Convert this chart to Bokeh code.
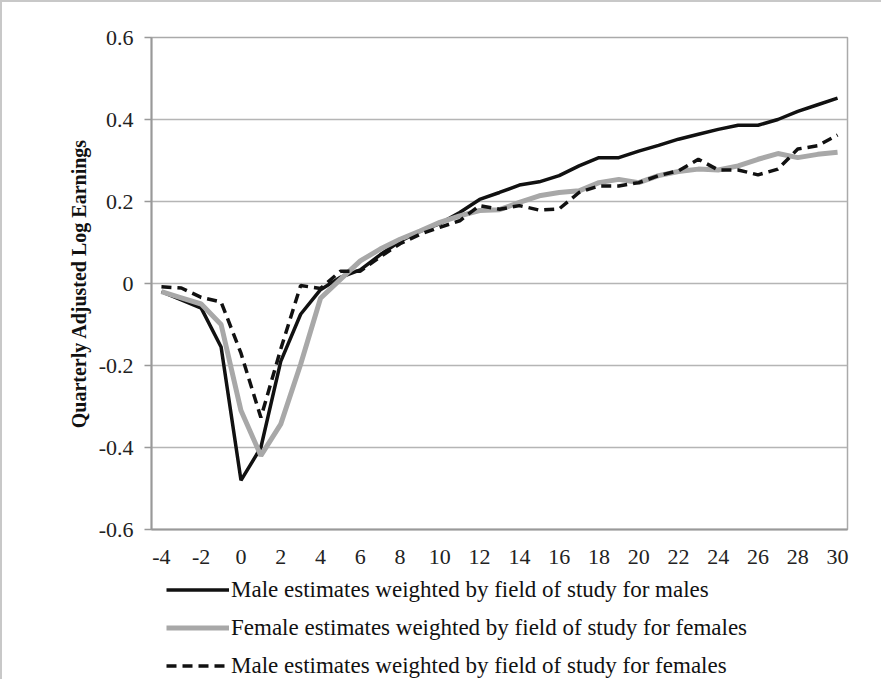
from bokeh.plotting import figure
from bokeh.layouts import column
from bokeh.models import Range1d, FixedTicker, CustomJSTickFormatter, Legend, LegendItem
from bokeh.embed import file_html
from bokeh.resources import INLINE

quarters = list(range(-4, 31))

male_for_males = [-0.02, -0.04, -0.06, -0.155, -0.48, -0.40, -0.19, -0.075, -0.015, 0.015,
                  0.033, 0.07, 0.103, 0.127, 0.146, 0.173, 0.205, 0.222, 0.240, 0.248,
                  0.263, 0.287, 0.307, 0.307, 0.323, 0.337, 0.352, 0.364, 0.376, 0.386,
                  0.386, 0.400, 0.420, 0.436, 0.452]

female_for_females = [-0.02, -0.035, -0.05, -0.10, -0.31, -0.42, -0.343, -0.197, -0.036, 0.01,
                      0.055, 0.084, 0.108, 0.128, 0.149, 0.165, 0.178, 0.180, 0.198, 0.214,
                      0.222, 0.226, 0.246, 0.254, 0.246, 0.263, 0.273, 0.279, 0.277, 0.287,
                      0.303, 0.317, 0.307, 0.315, 0.320]

male_for_females = [-0.008, -0.011, -0.034, -0.045, -0.17, -0.327, -0.16, -0.005, -0.012, 0.03,
                    0.03, 0.065, 0.097, 0.12, 0.137, 0.153, 0.19, 0.181, 0.19, 0.179,
                    0.182, 0.222, 0.238, 0.238, 0.246, 0.263, 0.275, 0.303, 0.277, 0.277,
                    0.265, 0.279, 0.328, 0.336, 0.362]

x_ticks = list(range(-4, 31, 2))
y_ticks = [-0.6, -0.4, -0.2, 0.0, 0.2, 0.4, 0.6]

labels = ["Male estimates weighted by field of study for males",
          "Female estimates weighted by field of study for females",
          "Male estimates weighted by field of study for females"]

FONT = "Liberation Serif"
styles = [dict(line_color="#111111", line_width=3.5),
          dict(line_color="#a8a8a8", line_width=5),
          dict(line_color="#111111", line_width=3.5, line_dash="10 6")]

# ---- main chart ----
p = figure(width=879, height=566, output_backend="svg", toolbar_location=None,
           x_range=Range1d(-4.5, 30.5), y_range=Range1d(-0.6, 0.6),
           min_border_left=149, min_border_right=34, min_border_top=35, min_border_bottom=39)

p.line(quarters, male_for_males, **styles[0])
p.line(quarters, female_for_females, **styles[1])
p.line(quarters, male_for_females, **styles[2])

p.xgrid.visible = False
p.ygrid.grid_line_color = "#b5b5b5"
p.ygrid.grid_line_width = 1.5
p.outline_line_color = "#aaaaaa"
p.outline_line_width = 1.5

p.yaxis.ticker = FixedTicker(ticks=y_ticks)
p.yaxis.formatter = CustomJSTickFormatter(code="""
const v = Math.round(tick*10)/10;
return v === 0 ? "0" : v.toFixed(1);
""")
p.xaxis.ticker = FixedTicker(ticks=x_ticks)
p.xaxis.formatter = CustomJSTickFormatter(code="return tick.toFixed(0);")

for ax in (p.xaxis[0], p.yaxis[0]):
    ax.axis_line_color = "#999999"
    ax.axis_line_width = 2
    ax.major_label_text_font = FONT
    ax.major_label_text_font_size = "22px"
    ax.major_label_text_color = "#222222"
    ax.minor_tick_line_color = None
    ax.major_tick_line_color = "#999999"
    ax.major_tick_line_width = 1.5
    ax.major_tick_in = 0

p.xaxis.major_tick_out = 0
p.xaxis.major_label_standoff = 20
p.yaxis.major_tick_out = 7
p.yaxis.major_label_standoff = 11

p.yaxis.axis_label = "Quarterly Adjusted Log Earnings"
p.yaxis.axis_label_text_font = FONT
p.yaxis.axis_label_text_font_size = "20px"
p.yaxis.axis_label_text_font_style = "bold"
p.yaxis.axis_label_text_color = "#111111"
p.yaxis.axis_label_standoff = 6

# ---- legend panel below ----
lg = figure(width=879, height=111, output_backend="svg", toolbar_location=None,
            x_range=Range1d(0, 1), y_range=Range1d(0, 1),
            min_border_left=149, min_border_right=34, min_border_top=0, min_border_bottom=0)
lg.axis.visible = False
lg.grid.visible = False
lg.outline_line_color = None
lg.background_fill_alpha = 0
lg.border_fill_alpha = 0
items = []
nan = float("nan")
for lab, st in zip(labels, styles):
    r = lg.line(x=[nan], y=[nan], **st)
    items.append(LegendItem(label=lab, renderers=[r]))

legend = Legend(items=items, location=(15, 0), orientation="vertical")
legend.label_text_font = FONT
legend.label_text_font_size = "23px"
legend.label_text_color = "#111111"
legend.glyph_width = 63
legend.glyph_height = 27
legend.label_height = 27
legend.label_standoff = 2
legend.spacing = 11
legend.padding = 0
legend.margin = 0
legend.border_line_color = None
legend.background_fill_alpha = 0
lg.add_layout(legend)

layout = column(p, lg, spacing=0,
                styles={"border-top": "2px solid #c8c8c8", "border-left": "2px solid #c8c8c8"})

open("out.html", "w").write(file_html(layout, INLINE))
